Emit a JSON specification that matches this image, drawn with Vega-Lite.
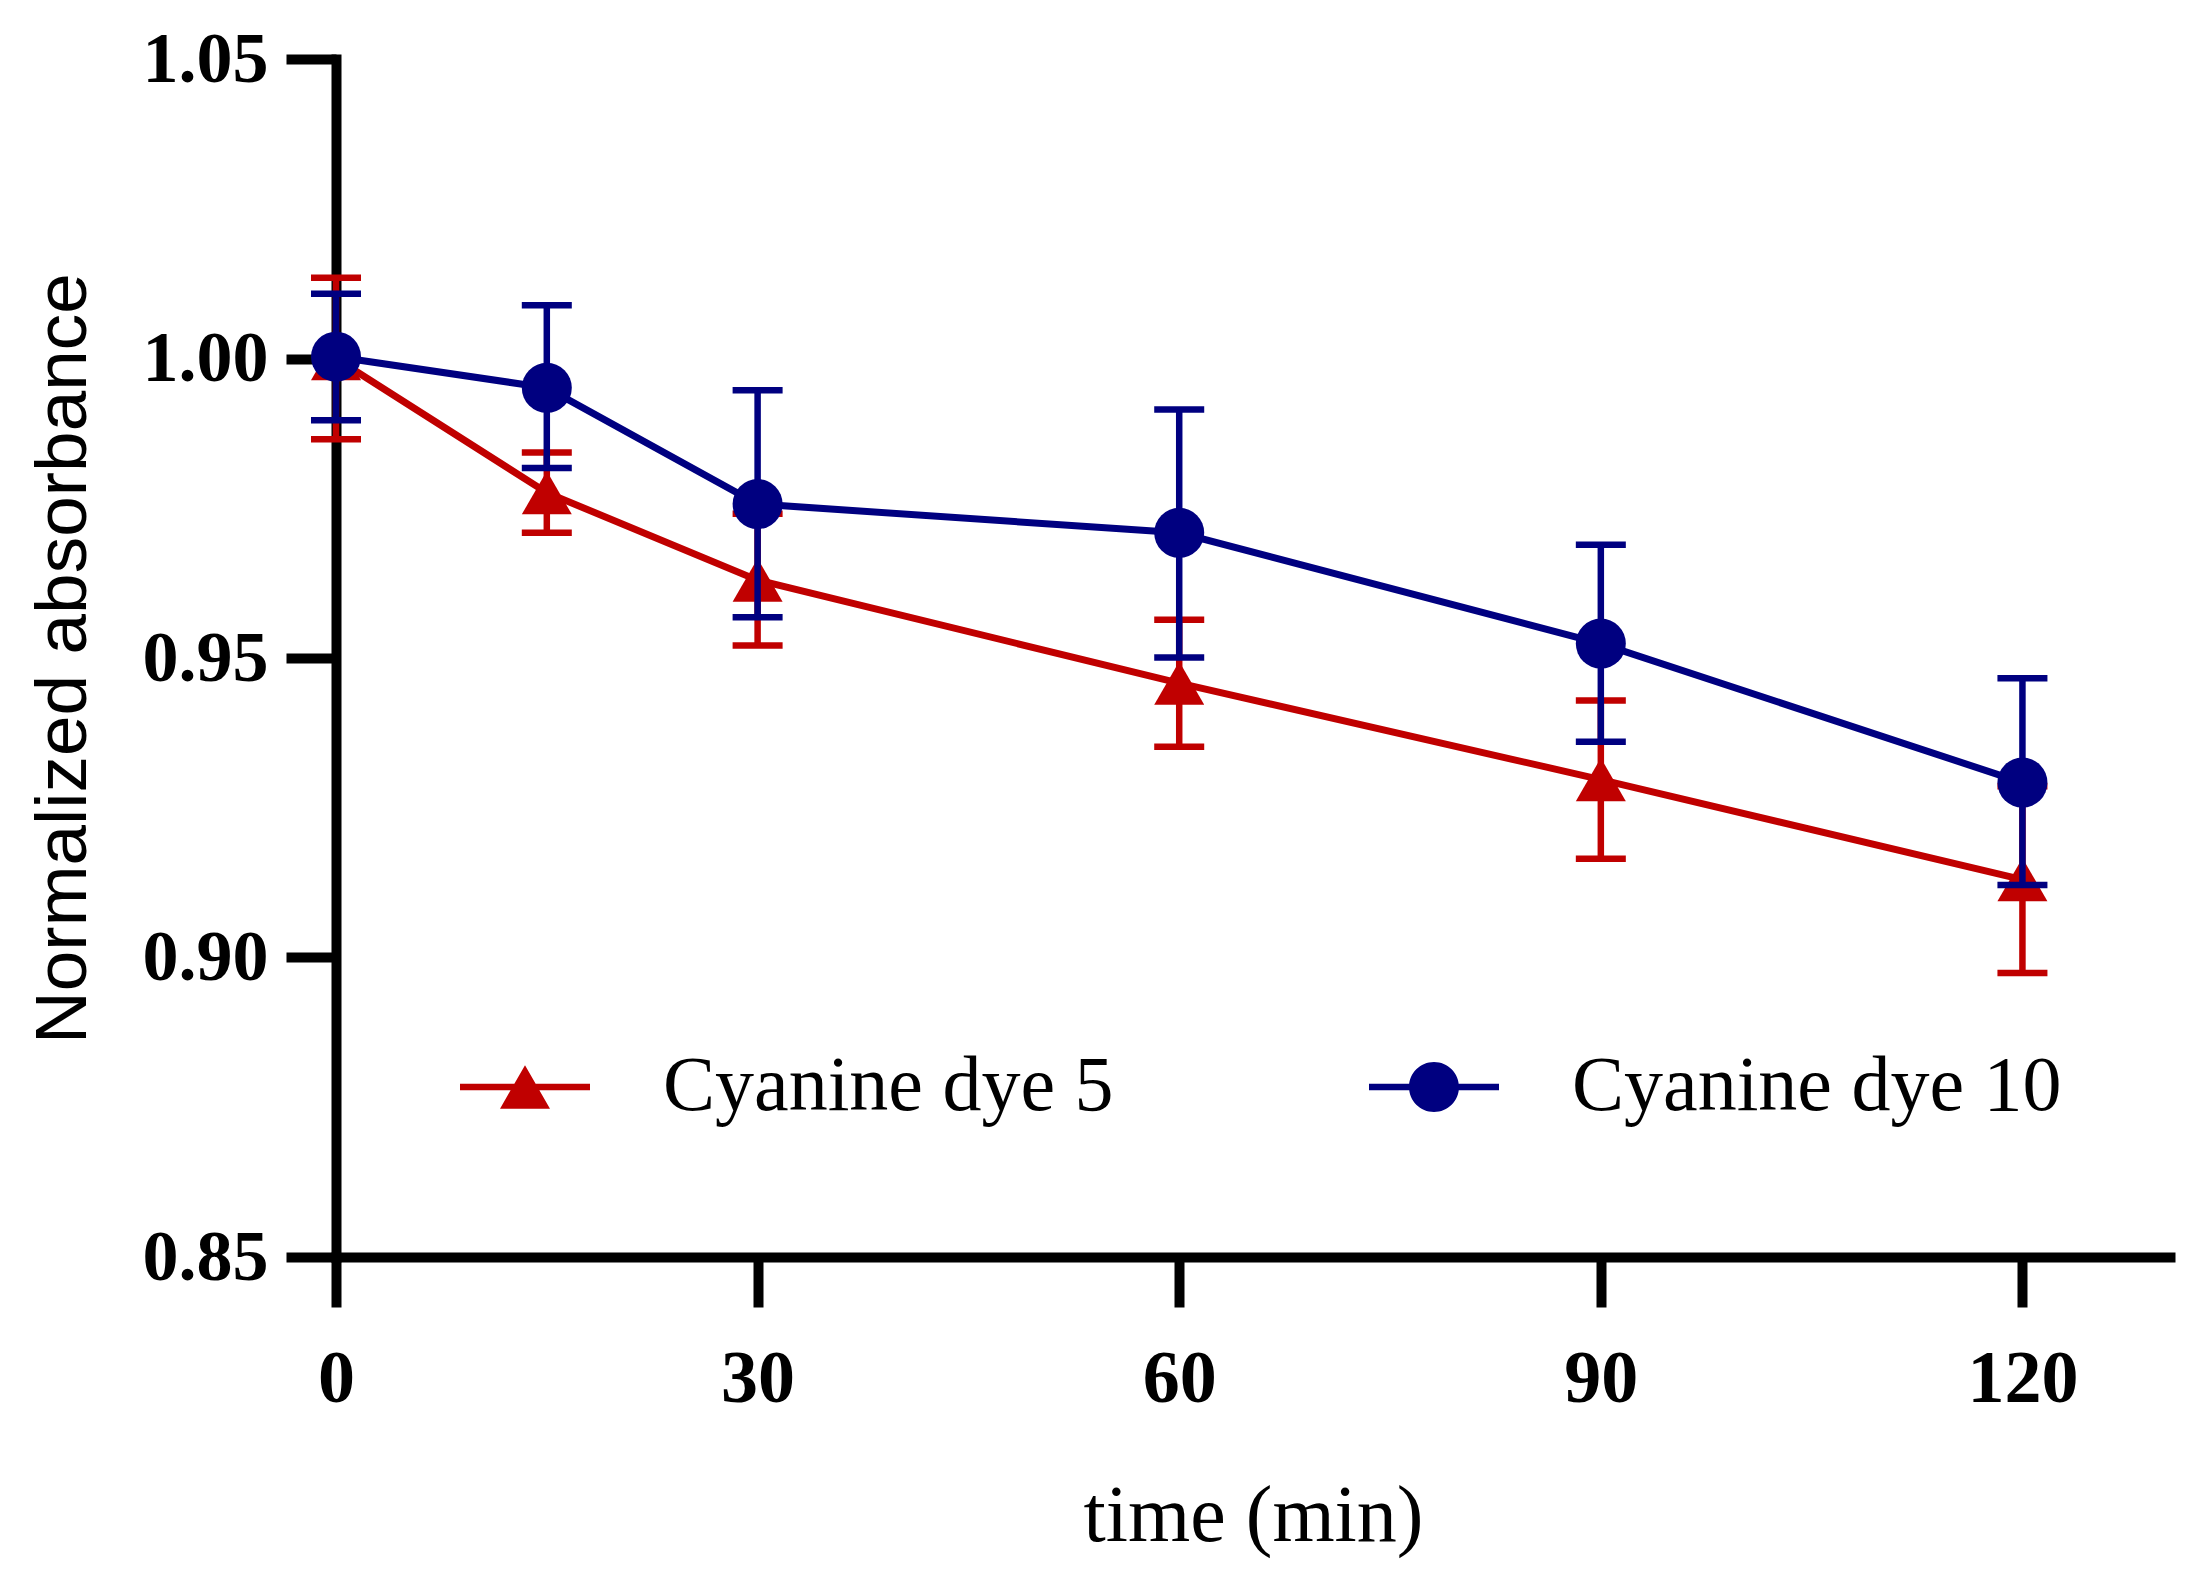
{
  "$schema": "https://vega.github.io/schema/vega-lite/v6.json",
  "width": 1834,
  "height": 1198,
  "autosize": {"type": "none"},
  "padding": {"left": 336, "top": 59, "right": 16, "bottom": 316},
  "background": "white",
  "data": {
    "values": [
      {"series": "Cyanine dye 5", "time": 0, "mean": 1.0, "lo": 0.9865, "hi": 1.0135},
      {"series": "Cyanine dye 5", "time": 15, "mean": 0.9776, "lo": 0.9709, "hi": 0.9843},
      {"series": "Cyanine dye 5", "time": 30, "mean": 0.963, "lo": 0.9521, "hi": 0.9741},
      {"series": "Cyanine dye 5", "time": 60, "mean": 0.9458, "lo": 0.9352, "hi": 0.9564},
      {"series": "Cyanine dye 5", "time": 90, "mean": 0.9297, "lo": 0.9165, "hi": 0.9429},
      {"series": "Cyanine dye 5", "time": 120, "mean": 0.913, "lo": 0.8974, "hi": 0.9286},
      {"series": "Cyanine dye 10", "time": 0, "mean": 1.0003, "lo": 0.9897, "hi": 1.0108},
      {"series": "Cyanine dye 10", "time": 15, "mean": 0.9951, "lo": 0.9817, "hi": 1.0089},
      {"series": "Cyanine dye 10", "time": 30, "mean": 0.9757, "lo": 0.9568, "hi": 0.9947},
      {"series": "Cyanine dye 10", "time": 60, "mean": 0.9709, "lo": 0.9501, "hi": 0.9915},
      {"series": "Cyanine dye 10", "time": 90, "mean": 0.9524, "lo": 0.936, "hi": 0.9689},
      {"series": "Cyanine dye 10", "time": 120, "mean": 0.9292, "lo": 0.9121, "hi": 0.9466}
    ]
  },
  "encoding": {
    "x": {
      "field": "time",
      "type": "quantitative",
      "title": "time (min)",
      "scale": {"domain": [0, 130.5], "nice": false, "zero": false},
      "axis": {
        "values": [0, 30, 60, 90, 120],
        "grid": false,
        "domainColor": "black",
        "domainWidth": 10,
        "domainCap": "square",
        "tickColor": "black",
        "tickWidth": 10,
        "tickSize": 50,
        "labelFont": "Liberation Serif",
        "labelFontWeight": "bold",
        "labelFontSize": 74,
        "labelColor": "black",
        "labelPadding": 36,
        "labelFlush": false,
        "titleFont": "Liberation Serif",
        "titleFontWeight": "normal",
        "titleFontSize": 80,
        "titleColor": "black",
        "titleBaseline": "alphabetic",
        "titleY": 283
      }
    }
  },
  "layer": [
    {
      "mark": {"type": "point", "filled": true, "opacity": 0, "size": 2500},
      "encoding": {
        "y": {
          "field": "mean",
          "type": "quantitative",
          "title": "Normalized absorbance",
          "scale": {"domain": [0.85, 1.05], "nice": false, "zero": false},
          "axis": {
            "values": [0.85, 0.9, 0.95, 1.0, 1.05],
            "format": ".2f",
            "grid": false,
            "domainColor": "black",
            "domainWidth": 10,
            "domainCap": "square",
            "tickColor": "black",
            "tickWidth": 10,
            "tickSize": 50,
            "labelFont": "Liberation Serif",
            "labelFontWeight": "bold",
            "labelFontSize": 72,
            "labelColor": "black",
            "labelPadding": 18,
            "labelFlush": false,
            "titleFont": "Liberation Sans",
            "titleFontWeight": "normal",
            "titleFontSize": 73,
            "titleColor": "black",
            "titleAngle": -90,
            "titleAlign": "center",
            "titleBaseline": "alphabetic",
            "titleX": -251,
            "titleY": 599
          }
        },
        "color": {
          "field": "series",
          "type": "nominal",
          "scale": {"domain": ["Cyanine dye 5", "Cyanine dye 10"], "range": ["#C00000", "#000080"]},
          "legend": {
            "orient": "none",
            "legendX": 150,
            "legendY": 989,
            "direction": "horizontal",
            "title": null,
            "padding": 0,
            "symbolSize": 2500,
            "symbolOpacity": 1,
            "symbolStrokeWidth": 0,
            "labelFont": "Liberation Serif",
            "labelFontSize": 78,
            "labelColor": "black",
            "labelOffset": 99,
            "labelLimit": 1000,
            "columnPadding": 255
          }
        },
        "shape": {
          "field": "series",
          "type": "nominal",
          "scale": {
            "domain": ["Cyanine dye 5", "Cyanine dye 10"],
            "range": [
              "M-2.6,-0.13H2.6V0.13H-2.6Z M0,-0.87L1,0.87H-1Z",
              "M-2.6,-0.13H2.6V0.13H-2.6Z M-1,0A1,1,0,1,1,1,0A1,1,0,1,1,-1,0Z"
            ]
          },
          "legend": {
            "orient": "none",
            "legendX": 150,
            "legendY": 989,
            "direction": "horizontal",
            "title": null,
            "padding": 0,
            "symbolSize": 2500,
            "symbolOpacity": 1,
            "symbolStrokeWidth": 0,
            "labelFont": "Liberation Serif",
            "labelFontSize": 78,
            "labelColor": "black",
            "labelOffset": 99,
            "labelLimit": 1000,
            "columnPadding": 255
          }
        }
      }
    },
    {
      "transform": [{"filter": "datum.series === 'Cyanine dye 5'"}],
      "layer": [
        {
          "mark": {"type": "errorbar", "color": "#C00000", "ticks": {"size": 50, "thickness": 6.5, "opacity": 1}, "rule": {"strokeWidth": 6.5, "opacity": 1}},
          "encoding": {
            "y": {"field": "lo", "type": "quantitative", "title": "Normalized absorbance"},
            "y2": {"field": "hi"}
          }
        },
        {
          "mark": {"type": "line", "color": "#C00000", "strokeWidth": 7},
          "encoding": {"y": {"field": "mean", "type": "quantitative", "title": "Normalized absorbance"}}
        },
        {
          "mark": {"type": "point", "filled": true, "opacity": 1, "size": 2500, "shape": "triangle-up", "color": "#C00000"},
          "encoding": {"y": {"field": "mean", "type": "quantitative", "title": "Normalized absorbance"}}
        }
      ]
    },
    {
      "transform": [{"filter": "datum.series === 'Cyanine dye 10'"}],
      "layer": [
        {
          "mark": {"type": "errorbar", "color": "#000080", "ticks": {"size": 50, "thickness": 6.5, "opacity": 1}, "rule": {"strokeWidth": 6.5, "opacity": 1}},
          "encoding": {
            "y": {"field": "lo", "type": "quantitative", "title": "Normalized absorbance"},
            "y2": {"field": "hi"}
          }
        },
        {
          "mark": {"type": "line", "color": "#000080", "strokeWidth": 7},
          "encoding": {"y": {"field": "mean", "type": "quantitative", "title": "Normalized absorbance"}}
        },
        {
          "mark": {"type": "point", "filled": true, "opacity": 1, "size": 2500, "shape": "circle", "color": "#000080"},
          "encoding": {"y": {"field": "mean", "type": "quantitative", "title": "Normalized absorbance"}}
        }
      ]
    }
  ],
  "config": {"view": {"stroke": null}}
}
